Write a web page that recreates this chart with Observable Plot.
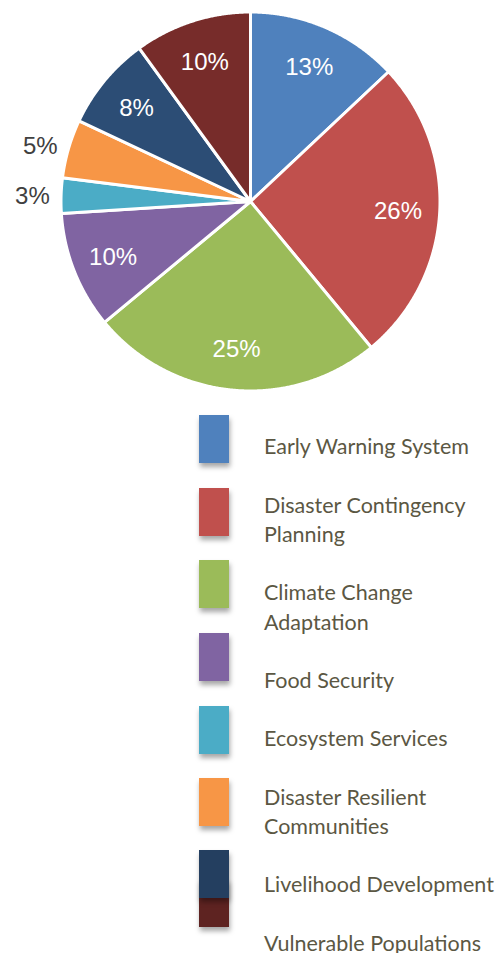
<!DOCTYPE html>
<html>
<head>
<meta charset="utf-8">
<script src="https://cdn.jsdelivr.net/npm/d3@7"></script>
<script src="https://cdn.jsdelivr.net/npm/@observablehq/plot@0.6"></script>
<style>
  html, body { margin: 0; padding: 0; background: #fff; }
  #chart { width: 500px; height: 400px; }
  #legend { position: relative; width: 500px; height: 553px; font-family: Lato, "Open Sans", sans-serif; }
  .sw { position: absolute; left: 199px; width: 30px; height: 48px; box-shadow: 1px 4px 5px rgba(0,0,0,0.35); }
  .lt { position: absolute; left: 264px; font-size: 21.5px; font-weight: 400; line-height: 29.2px; color: #5b5743; white-space: nowrap; }
</style>
</head>
<body>
<div id="chart"></div>
<div id="legend"></div>
<script>
const categories = ["Early Warning System", "Disaster Contingency Planning", "Climate Change Adaptation", "Food Security", "Ecosystem Services", "Disaster Resilient Communities", "Livelihood Development", "Vulnerable Populations"];
const values = [13, 26, 25, 10, 3, 5, 8, 10];
const colors = ["#4F81BD", "#C0504D", "#9BBB59", "#8064A2", "#4BACC6", "#F79646", "#2C4D75", "#772C2A"];
const legendColors = ["#4F81BD", "#C0504D", "#9BBB59", "#8064A2", "#4BACC6", "#F79646", "#243F60", "#5E2321"];
const legendLines = [["Early Warning System"], ["Disaster Contingency", "Planning"], ["Climate Change", "Adaptation"], ["Food Security"], ["Ecosystem Services"], ["Disaster Resilient", "Communities"], ["Livelihood Development"], ["Vulnerable Populations"]];

// layout
const W = 500, H = 400, CX = 250, CY = 201, R = 189.5;

const total = d3.sum(values);
const arcs = d3.pie().sort(null).value(d => d)(values);

const pts = [];
arcs.forEach((a, i) => {
  const key = categories[i];
  pts.push({key, x: 0, y: 0});
  const n = Math.max(4, Math.ceil((a.endAngle - a.startAngle) / 0.005));
  for (let j = 0; j <= n; j++) {
    const t = a.startAngle + (a.endAngle - a.startAngle) * j / n;
    pts.push({key, x: Math.sin(t), y: -Math.cos(t)});
  }
  pts.push({key, x: 0, y: 0});
});

const labels = arcs.map((a, i) => {
  const mid = (a.startAngle + a.endAngle) / 2;
  const pct = values[i] / total * 100;
  const outside = pct < 6;
  const r = outside ? 1.06 : 0.78;
  return {
    key: categories[i],
    text: Math.round(pct) + "%",
    x: r * Math.sin(mid),
    y: -r * Math.cos(mid),
    outside
  };
});

const plot = Plot.plot({
  width: W, height: H,
  margin: 0,
  x: {domain: [-CX / R, (W - CX) / R], range: [0, W], axis: null},
  y: {domain: [-CY / R, (H - CY) / R], range: [0, H], axis: null},
  color: {domain: categories, range: colors},
  style: {background: "#fff"},
  marks: [
    Plot.line(pts, {x: "x", y: "y", z: "key", fill: "key", stroke: "#fff", strokeWidth: 3, strokeLinejoin: "round", curve: "linear"}),
    Plot.text(labels.filter(d => !d.outside), {x: "x", y: "y", dy: 1, text: "text", fill: "#fff", fontSize: 24, fontFamily: "Liberation Sans, Arial, sans-serif", textAnchor: "middle"}),
    Plot.text(labels.filter(d => d.outside), {x: "x", y: "y", dy: 1, text: "text", fill: "#404040", fontSize: 24, fontFamily: "Liberation Sans, Arial, sans-serif", textAnchor: "end"})
  ]
});
document.getElementById("chart").appendChild(plot);

// legend
const legend = document.getElementById("legend");
const top0 = 400;
const swatchTops = [415, 488, 560, 633, 706, 778, 850, 879];
const order = [0, 1, 2, 3, 4, 5, 7, 6];
order.forEach(i => {
  const s = document.createElement("div");
  s.className = "sw";
  s.style.top = (swatchTops[i] - top0) + "px";
  s.style.background = legendColors[i];
  legend.appendChild(s);
});
let k = 0;
legendLines.forEach(lines => {
  lines.forEach(line => {
    const t = document.createElement("div");
    t.className = "lt";
    t.textContent = line;
    t.style.top = (447 + 29.2 * k - 14.6 - top0) + "px";
    legend.appendChild(t);
    k++;
  });
  k++;
});
</script>
</body>
</html>
